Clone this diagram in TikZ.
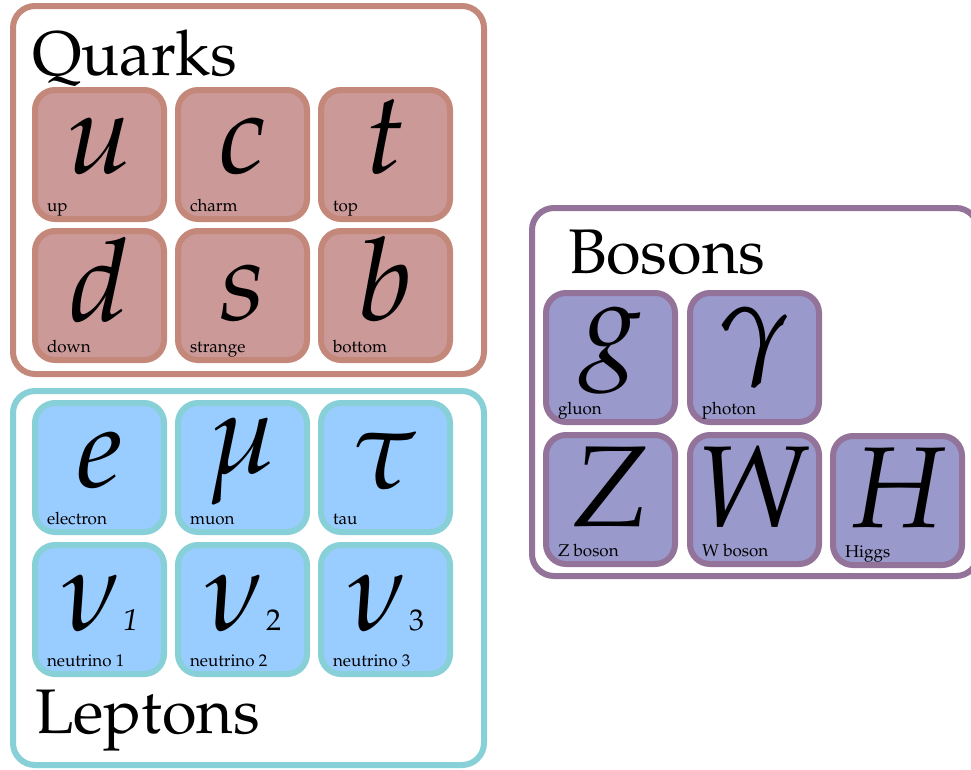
\documentclass[tikz,border=0pt]{standalone}
\usepackage[T1]{fontenc}
\usepackage{mathpazo}
\definecolor{qfill}{HTML}{CC9999}
\definecolor{qline}{HTML}{C4887A}
\definecolor{lfill}{HTML}{99CCFF}
\definecolor{lline}{HTML}{88D0D8}
\definecolor{bfill}{HTML}{9999CC}
\definecolor{bline}{HTML}{937399}
\tikzset{
  frame/.style={draw, line width=6pt, rounded corners=22pt, inner sep=0pt, outer sep=0pt, fill=white},
  cell/.style={draw, line width=6pt, rounded corners=20pt, minimum width=129pt, minimum height=129pt, inner sep=0pt, outer sep=0pt},
  quark/.style={cell, draw=qline, fill=qfill},
  lepton/.style={cell, draw=lline, fill=lfill},
  boson/.style={cell, draw=bline, fill=bfill},
  sym/.style={anchor=base, inner sep=0pt, outer sep=0pt, font=\fontsize{115}{115}\selectfont},
  lab/.style={anchor=base west, inner sep=0pt, outer sep=0pt, font=\fontsize{17}{17}\selectfont},
  title/.style={anchor=base west, inner sep=0pt, outer sep=0pt, font=\fontsize{63}{63}\selectfont},
}
\newcommand\particle[7]{%
  \node[#4] (#1) at (#2,#3) {};
  \node[sym] (#1-s) at ([yshift=-#7pt]#1.center) {#5};
  \node[lab] (#1-l) at ([xshift=12pt,yshift=8pt]#1.south west) {#6};
}
\newcommand\subdig[1]{\hspace{2pt}{\fontsize{30}{30}\selectfont #1}}
\begin{document}
\begin{tikzpicture}[x=1pt,y=-1pt]
\useasboundingbox (0,0) rectangle (971,769);
\clip (0,0) rectangle (971,769);
% frames
\node[frame, draw=qline, minimum width=471pt, minimum height=368pt] (quarks) at (248.5,190) {};
\node[frame, draw=lline, minimum width=471pt, minimum height=374pt] (leptons) at (248.5,578) {};
\node[frame, draw=bline, minimum width=446pt, minimum height=368pt] (bosons) at (755,392) {};
% titles
\node[title] (tq) at (32,75) {Quarks};
\node[title] (tb) at (568,273) {Bosons};
\node[title] (tl) at (35,733) {Leptons};
% quarks
\particle{up}{99.5}{154.5}{quark}{$u$}{up}{19}
\particle{charm}{242.5}{154.5}{quark}{$c$}{charm}{19}
\particle{top}{385.5}{154.5}{quark}{$t$}{top}{19}
\particle{down}{99.5}{295.5}{quark}{$d$}{down}{26}
\particle{strange}{242.5}{295.5}{quark}{$s$}{strange}{25}
\particle{bottom}{385.5}{295.5}{quark}{$b$}{bottom}{25}
% leptons
\particle{el}{99.5}{467.5}{lepton}{$e$}{electron}{19.5}
\particle{mu}{242.5}{467.5}{lepton}{$\mu$}{muon}{6}
\particle{tau}{385.5}{467.5}{lepton}{$\tau$}{tau}{21}
\particle{nu1}{99.5}{609.5}{lepton}{$\nu$\subdig{\textit{1}}}{neutrino 1}{20.5}
\particle{nu2}{242.5}{609.5}{lepton}{$\nu$\subdig{2}}{neutrino 2}{20.5}
\particle{nu3}{385.5}{609.5}{lepton}{$\nu$\subdig{3}}{neutrino 3}{20.5}
% bosons
\particle{gluon}{610.5}{357.5}{boson}{$g$}{gluon}{4.5}
\particle{photon}{754.5}{357.5}{boson}{$\gamma$}{photon}{4.5}
\particle{zb}{610.5}{499.5}{boson}{$Z$}{Z boson}{26.5}
\particle{wb}{754.5}{499.5}{boson}{$W$}{W boson}{26.5}
\particle{higgs}{897.5}{500.5}{boson}{$H$}{Higgs}{26.5}
\end{tikzpicture}
\end{document}
